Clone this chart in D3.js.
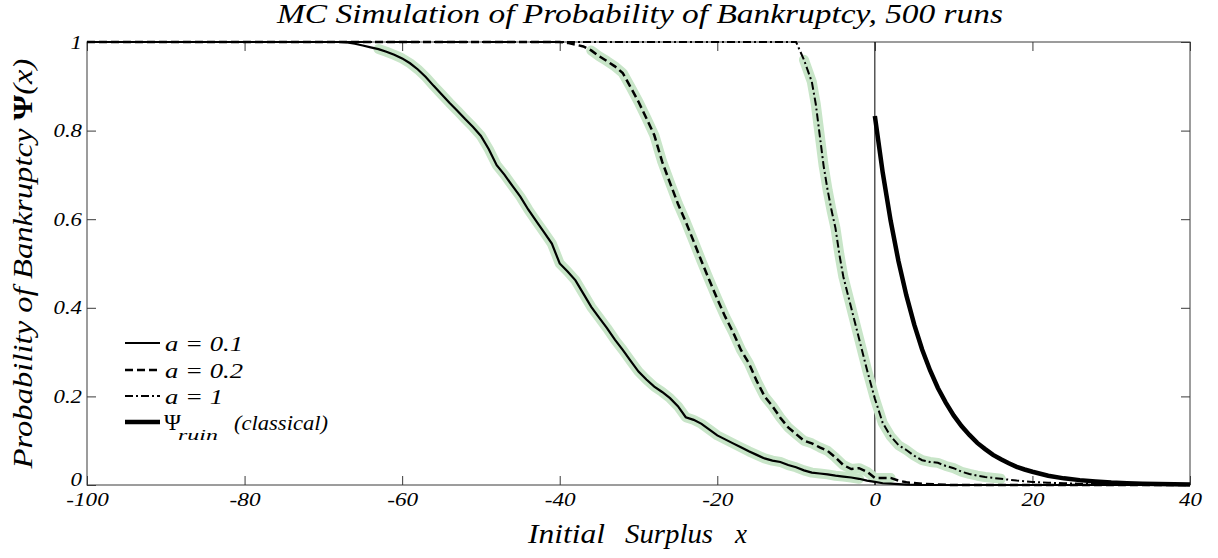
<!DOCTYPE html>
<html>
<head>
<meta charset="utf-8">
<script src="https://cdn.jsdelivr.net/npm/d3@7"></script>
<style>
  html, body { margin: 0; padding: 0; background: #fff; }
</style>
</head>
<body>
<svg id="chart" width="1218" height="558"></svg>
<script>
// ---------------- data ----------------
const title = "MC Simulation of Probability of Bankruptcy, 500 runs";
const xLabelWords = ["Initial", "Surplus", "x"];
const yLabel = "Probability of Bankruptcy ";
const xTicks = [-100, -80, -60, -40, -20, 0, 20, 40];
const xTickLabels = ["-100", "-80", "-60", "-40", "-20", "0", "20", "40"];
const yTicks = [0, 0.2, 0.4, 0.6, 0.8, 1];
const yTickLabels = ["0", "0.2", "0.4", "0.6", "0.8", "1"];
const legendLabels = ["a = 0.1", "a = 0.2", "a = 1", "(classical)"];

// a = 0.1 (solid)
const xA01 = [-100, -68, -67, -66, -65, -64, -63, -62, -61, -60, -59, -58, -57, -56, -55, -54, -53, -52, -51, -50,
  -49, -48, -47, -46, -45, -44, -43, -42, -41, -40, -39, -38, -37, -36, -35, -34, -33, -32, -31, -30,
  -29, -28, -27, -26, -25, -24, -23, -22, -21, -20, -19, -18, -17, -16, -15, -14, -13, -12, -11, -10,
  -9, -8, -7, -6, -5, -4, -3, -2, -1, 0, 1, 2, 4, 6, 40];
const yA01 = [1, 1, 0.999, 0.996, 0.992, 0.988, 0.984, 0.978, 0.971, 0.963, 0.952, 0.938, 0.921, 0.901, 0.882, 0.863, 0.845, 0.826, 0.808, 0.788,
  0.758, 0.722, 0.700, 0.675, 0.651, 0.622, 0.596, 0.571, 0.545, 0.500, 0.482, 0.462, 0.432, 0.402, 0.378, 0.354, 0.328, 0.305, 0.280, 0.256,
  0.238, 0.222, 0.210, 0.196, 0.178, 0.153, 0.147, 0.138, 0.125, 0.112, 0.103, 0.094, 0.085, 0.076, 0.068, 0.060, 0.055, 0.052, 0.045, 0.040,
  0.033, 0.028, 0.026, 0.024, 0.021, 0.019, 0.017, 0.014, 0.010, 0.007, 0.004, 0.003, 0.001, 0, 0];

// a = 0.2 (dashed)
const xA02 = [-100, -40, -39, -38, -37, -36, -35, -34, -33, -32, -31, -30, -29, -28, -27, -26, -25, -24, -23, -22, -21, -20,
  -19, -18, -17, -16, -15, -14, -13, -12, -11, -10, -9, -8, -7, -6, -5, -4, -3, -2, -1, 0, 1, 2, 3, 4, 6, 8, 10, 40];
const yA02 = [1, 1, 0.998, 0.994, 0.990, 0.981, 0.968, 0.957, 0.945, 0.930, 0.898, 0.865, 0.828, 0.790, 0.730, 0.682, 0.635, 0.594, 0.550, 0.505, 0.462, 0.420,
  0.380, 0.345, 0.305, 0.275, 0.235, 0.200, 0.178, 0.152, 0.130, 0.115, 0.100, 0.094, 0.085, 0.077, 0.062, 0.045, 0.036, 0.038, 0.030, 0.016, 0.016, 0.016, 0.010, 0.006, 0.003, 0.001, 0, 0];

// a = 1 (dash-dot)
const xA1 = [-100, -10, -9, -8, -7.5, -7, -6.5, -6, -5.5, -5, -4.5, -4, -3, -2, -1, 0, 1, 2, 3, 4, 5, 6, 7, 8, 9, 10,
  11, 12, 13, 14, 16, 18, 20, 22, 24, 26, 28, 30, 35, 40];
const yA1 = [1, 1, 0.960, 0.910, 0.860, 0.790, 0.720, 0.666, 0.620, 0.580, 0.520, 0.470, 0.400, 0.330, 0.260, 0.195, 0.140, 0.110, 0.090, 0.079, 0.066, 0.056, 0.052, 0.050, 0.043, 0.038,
  0.030, 0.025, 0.021, 0.018, 0.014, 0.010, 0.007, 0.005, 0.004, 0.003, 0.002, 0.001, 0.0005, 0];

// classical psi_ruin (thick)
const xRuin = [0, 1, 2, 3, 4, 5, 6, 7, 8, 9, 10, 11, 12, 13, 14, 15, 16, 17, 18, 19, 20, 22, 24, 26, 28, 30, 32, 34, 36, 38, 40];
const yRuin = [0.833, 0.705, 0.597, 0.505, 0.428, 0.362, 0.306, 0.259, 0.219, 0.186, 0.157, 0.133, 0.113, 0.095, 0.081, 0.068, 0.058, 0.049, 0.041, 0.035,
  0.030, 0.021, 0.015, 0.011, 0.008, 0.0056, 0.004, 0.0029, 0.002, 0.0015, 0.001];

// ---------------- chart ----------------
const FONT = "'Liberation Serif', 'Times New Roman', serif";
const svg = d3.select("#chart");
const L = 87, R = 1190, T = 42, B = 485;
const x = d3.scaleLinear().domain([-100, 40]).range([L, R]);
const y = d3.scaleLinear().domain([0, 1]).range([B, T]);
const frameColor = "#3a3a3a";
const bandColor = "#c8e5c8";

function styleText(sel, size) {
  return sel.style("font-family", FONT).style("font-style", "italic")
    .style("font-size", size + "px").attr("fill", "#000");
}

const charW = { "-": 8, ".": 5.5 };
const labelLen = s => Array.from(s).reduce((a, c) => a + (charW[c] || 11.5), 0);

// frame
svg.append("rect").attr("x", L).attr("y", T).attr("width", R - L).attr("height", B - T)
  .attr("fill", "none").attr("stroke", frameColor).attr("stroke-width", 1);

// axes (inward ticks)
const gx = svg.append("g").attr("transform", `translate(0,${B})`)
  .call(d3.axisBottom(x).tickValues(xTicks).tickSizeInner(-9).tickSizeOuter(0)
    .tickFormat((d, i) => xTickLabels[i]));
const gy = svg.append("g").attr("transform", `translate(${L},0)`)
  .call(d3.axisLeft(y).tickValues(yTicks).tickSizeInner(-9).tickSizeOuter(0).tickPadding(5)
    .tickFormat((d, i) => yTickLabels[i]));
const gt = svg.append("g").attr("transform", `translate(0,${T})`)
  .call(d3.axisTop(x).tickValues(xTicks).tickSizeInner(-9).tickSizeOuter(0).tickFormat(""));
const gr = svg.append("g").attr("transform", `translate(${R},0)`)
  .call(d3.axisRight(y).tickValues(yTicks).tickSizeInner(-9).tickSizeOuter(0).tickFormat(""));

[gx, gy, gt, gr].forEach(g => {
  g.attr("font-family", null).attr("font-size", null);
  g.select(".domain").remove();
  g.selectAll("line").attr("stroke", frameColor);
});
styleText(gx.selectAll("text"), 19).attr("y", 21).attr("dy", 0)
  .attr("textLength", (d, i) => labelLen(xTickLabels[i])).attr("lengthAdjust", "spacingAndGlyphs");
styleText(gy.selectAll("text"), 19).attr("dy", (d, i) => i === 0 ? "0.05em" : "0.32em")
  .attr("textLength", (d, i) => labelLen(yTickLabels[i])).attr("lengthAdjust", "spacingAndGlyphs");
gt.selectAll("text").remove();
gr.selectAll("text").remove();

// zero line
svg.append("line").attr("x1", x(0)).attr("x2", x(0)).attr("y1", T).attr("y2", B)
  .attr("stroke", "#000").attr("stroke-width", 1);

const pts = (xs, ys) => xs.map((v, i) => [v, ys[i]]);
const line = d3.line().x(d => x(d[0])).y(d => y(d[1]));

// green uncertainty bands under MC curves
[[xA01, yA01], [xA02, yA02], [xA1, yA1]].forEach(([xs, ys]) => {
  const p = pts(xs, ys).filter(d => d[1] < 0.985 && d[1] > 0.012);
  svg.append("path").attr("d", line(p)).attr("fill", "none")
    .attr("stroke", bandColor).attr("stroke-width", 10)
    .attr("stroke-linejoin", "round").attr("stroke-linecap", "round");
});

const series = [
  { xs: xA01, ys: yA01, w: 2.2, dash: null },
  { xs: xA02, ys: yA02, w: 2.5, dash: "8,4" },
  { xs: xA1, ys: yA1, w: 2, dash: "8,3,2,3" },
  { xs: xRuin, ys: yRuin, w: 4.5, dash: null }
];
series.forEach(s => {
  svg.append("path").attr("d", line(pts(s.xs, s.ys))).attr("fill", "none")
    .attr("stroke", "#000").attr("stroke-width", s.w)
    .attr("stroke-dasharray", s.dash);
});

// legend
const legY = [343, 370, 396, 422];
series.forEach((s, i) => {
  svg.append("line").attr("x1", 125).attr("x2", 160).attr("y1", legY[i]).attr("y2", legY[i])
    .attr("stroke", "#000").attr("stroke-width", s.w).attr("stroke-dasharray", s.dash);
});
[0, 1, 2].forEach(i => {
  styleText(svg.append("text"), 21).attr("x", 165).attr("y", legY[i] + 8)
    .attr("textLength", i === 2 ? 58 : 78).attr("lengthAdjust", "spacingAndGlyphs")
    .text(legendLabels[i]);
});
styleText(svg.append("text"), 23).attr("x", 164).attr("y", legY[3] + 8)
  .style("font-style", "normal").text("Ψ");
styleText(svg.append("text"), 14).attr("x", 178).attr("y", legY[3] + 18)
  .attr("textLength", 40).attr("lengthAdjust", "spacingAndGlyphs").text("ruin");
styleText(svg.append("text"), 21).attr("x", 234).attr("y", legY[3] + 8)
  .attr("textLength", 94).attr("lengthAdjust", "spacingAndGlyphs").text(legendLabels[3]);

// title
styleText(svg.append("text"), 27).attr("x", 640).attr("y", 23).attr("text-anchor", "middle")
  .attr("textLength", 726).attr("lengthAdjust", "spacingAndGlyphs")
  .text(title);

// x label
const xlPos = [[528, 77], [625, 88], [735, 12]];
xLabelWords.forEach((w, i) => {
  styleText(svg.append("text"), 27).attr("x", xlPos[i][0]).attr("y", 543)
    .attr("textLength", xlPos[i][1]).attr("lengthAdjust", "spacingAndGlyphs").text(w);
});

// y label
const yl = styleText(svg.append("text"), 27).attr("transform", `translate(32,${(T + B) / 2}) rotate(-90)`)
  .attr("text-anchor", "middle")
  .attr("textLength", 410).attr("lengthAdjust", "spacingAndGlyphs");
yl.append("tspan").text(yLabel);
yl.append("tspan").style("font-style", "normal").style("font-weight", "bold").text("Ψ");
yl.append("tspan").text("(x)");
</script>
</body>
</html>
